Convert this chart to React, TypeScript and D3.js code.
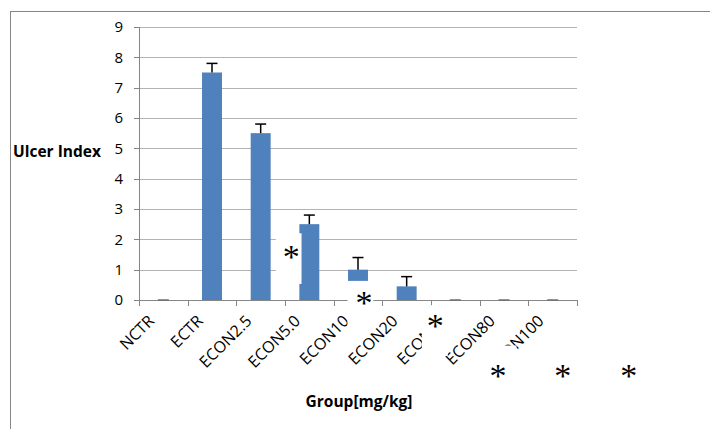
import React from "react";
import * as d3 from "d3";

// Groups on the x axis
const groups = ["NCTR", "ECTR", "ECON2.5", "ECON5.0", "ECON10", "ECON20", "ECON40", "ECON80", "ECON100"];
// Mean ulcer index per group
const ulcerIndex = [0, 7.5, 5.5, 2.5, 1.0, 0.45, 0, 0, 0];
// Upper error (SEM) per group
const ulcerError = [0, 0.3, 0.3, 0.3, 0.4, 0.32, 0, 0, 0];
// Y axis ticks
const yTicks = [0, 1, 2, 3, 4, 5, 6, 7, 8, 9];

// Significance asterisks, each placed relative to a group (px shift from its centre, level in axis units),
// some sitting on an opaque white patch
const starNotes = [
  { group: "ECON5.0", shift: -18, level: 1.58, patch: { x0: -33.5, x1: -7.8, top: 2.2, bottom: 0.53 } },
  { group: "ECON10", shift: 6, level: 0.07, patch: { x0: -10.5, x1: 15.3, top: 0.63, bottom: -1.05 } },
  { group: "ECON40", shift: -20, level: -0.69, patch: { x0: -33.5, x1: -7.5, top: -0.17, bottom: -1.85 } },
  { group: "ECON80", shift: -6, level: -2.34, patch: { x0: -20, x1: 12.5, top: -1.5, bottom: -3.4 } },
  { group: "ECON100", shift: 10, level: -2.34, patch: null },
  { group: "ECON100", shift: 76, level: -2.34, patch: null },
];

const W = 710;
const H = 429;
const plotLeft = 139;
const plotRight = 577;
const plotTop = 27;
const plotBottom = 300;

const font = "'Open Sans', 'DejaVu Sans', sans-serif";

export default function App() {
  const x = d3.scaleBand<string>().domain(groups).range([plotLeft, plotRight]).padding(0);
  const y = d3.scaleLinear().domain([0, 9]).range([plotBottom, plotTop]);
  const bw = x.bandwidth();
  const barW = bw * 0.41;
  const capW = 11;
  const cx = (g: string) => (x(g) as number) + bw / 2;

  const boundaries = groups.map((g) => x(g) as number).concat([plotRight]);

  return (
    <svg
      width={W}
      height={H}
      style={{ position: "absolute", left: 0, top: 0, background: "#fff" }}
    >
      {/* chart frame */}
      <rect x={10.5} y={11.5} width={900} height={600} fill="none" stroke="#868686" strokeWidth={1} />

      {/* horizontal gridlines */}
      {yTicks.filter((t) => t > 0).map((t) => (
        <line
          key={`g${t}`}
          x1={plotLeft}
          x2={plotRight}
          y1={Math.round(y(t)) + 0.5}
          y2={Math.round(y(t)) + 0.5}
          stroke="#b3b3b3"
          strokeWidth={1}
        />
      ))}

      {/* y axis */}
      <line x1={plotLeft + 0.5} x2={plotLeft + 0.5} y1={plotTop} y2={plotBottom} stroke="#868686" />
      {yTicks.map((t) => (
        <g key={`yt${t}`}>
          <line
            x1={plotLeft - 5}
            x2={plotLeft}
            y1={Math.round(y(t)) + 0.5}
            y2={Math.round(y(t)) + 0.5}
            stroke="#868686"
          />
          <text
            x={123}
            y={y(t)}
            dy="0.36em"
            textAnchor="end"
            fontFamily={font}
            fontSize={15}
            fill="#000"
          >
            {t}
          </text>
        </g>
      ))}

      {/* bars */}
      {groups.map((g, i) => (
        <rect
          key={`b${g}`}
          x={cx(g) - barW / 2}
          y={y(ulcerIndex[i])}
          width={barW}
          height={y(0) - y(ulcerIndex[i])}
          fill="#4f81bd"
        />
      ))}

      {/* x axis */}
      <line x1={plotLeft} x2={plotRight} y1={plotBottom + 0.5} y2={plotBottom + 0.5} stroke="#868686" />
      {boundaries.map((bx, i) => (
        <line
          key={`xt${i}`}
          x1={Math.round(bx) + 0.5}
          x2={Math.round(bx) + 0.5}
          y1={plotBottom}
          y2={plotBottom + 6}
          stroke="#868686"
        />
      ))}

      {/* error bars */}
      {groups.map((g, i) => {
        const top = y(ulcerIndex[i] + ulcerError[i]);
        const base = y(ulcerIndex[i]);
        return (
          <g key={`e${g}`} stroke="#000" strokeWidth={1.5}>
            {ulcerError[i] > 0 && <line x1={cx(g)} x2={cx(g)} y1={base} y2={top} />}
            <line
              x1={cx(g) - capW / 2}
              x2={cx(g) + capW / 2}
              y1={top}
              y2={top}
              stroke={ulcerError[i] > 0 ? "#000" : "#6e6e6e"}
            />
          </g>
        );
      })}

      {/* category labels */}
      {groups.map((g) => (
        <text
          key={`xl${g}`}
          transform={`translate(${cx(g) - 8},${322}) rotate(-45)`}
          textAnchor="end"
          fontFamily={font}
          fontSize={16}
          fill="#000"
        >
          {g}
        </text>
      ))}

      {/* axis titles */}
      <text x={13} y={157} fontFamily={font} fontWeight="bold" fontSize={15.5} fill="#000">
        Ulcer Index
      </text>
      <text
        x={359}
        y={407}
        textAnchor="middle"
        fontFamily={font}
        fontWeight="bold"
        fontSize={15.5}
        fill="#000"
      >
        Group[mg/kg]
      </text>

      {/* significance asterisks */}
      {starNotes.map((s, i) => {
        const sx = cx(s.group) + s.shift;
        const sy = y(s.level);
        return (
          <g key={`s${i}`}>
            {s.patch && (
              <rect
                x={cx(s.group) + s.patch.x0}
                y={y(s.patch.top)}
                width={s.patch.x1 - s.patch.x0}
                height={y(s.patch.bottom) - y(s.patch.top)}
                fill="#fff"
              />
            )}
            <text
              x={sx}
              y={sy + 16}
              textAnchor="middle"
              fontFamily="'Liberation Serif', serif"
              fontSize={34}
              fill="#000"
            >
              *
            </text>
          </g>
        );
      })}
    </svg>
  );
}
